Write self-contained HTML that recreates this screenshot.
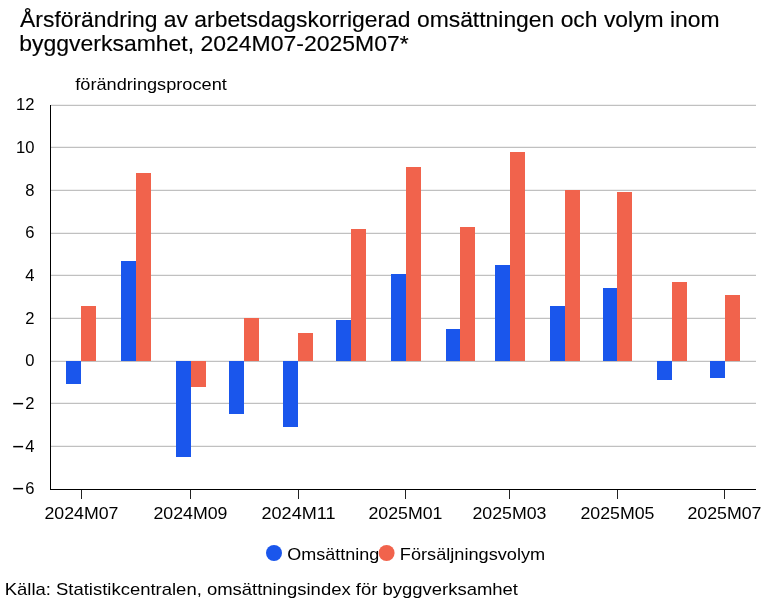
<!DOCTYPE html>
<html><head><meta charset="utf-8"><style>
html,body{margin:0;padding:0;background:#fff;width:766px;height:600px;overflow:hidden}
.w{width:766px;height:600px;will-change:transform}
svg{display:block}
text{font-family:"Liberation Sans",sans-serif;font-size:16.6px;fill:#000}
.t{font-size:21.4px;stroke:#000;stroke-width:0.15px}
</style></head><body><div class="w">
<svg width="766" height="600" viewBox="0 0 766 600" shape-rendering="crispEdges">
<text class="t" x="20.1" y="26.7" textLength="699.5" lengthAdjust="spacingAndGlyphs">Årsförändring av arbetsdagskorrigerad omsättningen och volym inom</text>
<text class="t" x="19.2" y="50.8" textLength="389.5" lengthAdjust="spacingAndGlyphs">byggverksamhet, 2024M07-2025M07*</text>
<text x="75.3" y="89.9" textLength="151.5" lengthAdjust="spacingAndGlyphs">förändringsprocent</text>
<rect x="51" y="104" width="705" height="1" fill="#f0f0f0"/>
<rect x="51" y="105" width="705" height="1" fill="#c0c0c0"/>
<rect x="51" y="146" width="705" height="1" fill="#f0f0f0"/>
<rect x="51" y="147" width="705" height="1" fill="#c0c0c0"/>
<rect x="51" y="189" width="705" height="1" fill="#f0f0f0"/>
<rect x="51" y="190" width="705" height="1" fill="#c0c0c0"/>
<rect x="51" y="232" width="705" height="1" fill="#f0f0f0"/>
<rect x="51" y="233" width="705" height="1" fill="#c0c0c0"/>
<rect x="51" y="274" width="705" height="1" fill="#f0f0f0"/>
<rect x="51" y="275" width="705" height="1" fill="#c0c0c0"/>
<rect x="51" y="317" width="705" height="1" fill="#f0f0f0"/>
<rect x="51" y="318" width="705" height="1" fill="#c0c0c0"/>
<rect x="51" y="360" width="705" height="1" fill="#f0f0f0"/>
<rect x="51" y="361" width="705" height="1" fill="#c0c0c0"/>
<rect x="51" y="402" width="705" height="1" fill="#f0f0f0"/>
<rect x="51" y="403" width="705" height="1" fill="#c0c0c0"/>
<rect x="51" y="445" width="705" height="1" fill="#f0f0f0"/>
<rect x="51" y="446" width="705" height="1" fill="#c0c0c0"/>
<rect x="66" y="361" width="15" height="23" fill="#1a56ec"/>
<rect x="81" y="306" width="15" height="55" fill="#f1634c"/>
<rect x="121" y="261" width="15" height="100" fill="#1a56ec"/>
<rect x="136" y="173" width="15" height="188" fill="#f1634c"/>
<rect x="176" y="361" width="15" height="96" fill="#1a56ec"/>
<rect x="191" y="361" width="15" height="26" fill="#f1634c"/>
<rect x="229" y="361" width="15" height="53" fill="#1a56ec"/>
<rect x="244" y="318" width="15" height="43" fill="#f1634c"/>
<rect x="283" y="361" width="15" height="66" fill="#1a56ec"/>
<rect x="298" y="333" width="15" height="28" fill="#f1634c"/>
<rect x="336" y="320" width="15" height="41" fill="#1a56ec"/>
<rect x="351" y="229" width="15" height="132" fill="#f1634c"/>
<rect x="391" y="274" width="15" height="87" fill="#1a56ec"/>
<rect x="406" y="167" width="15" height="194" fill="#f1634c"/>
<rect x="446" y="329" width="14" height="32" fill="#1a56ec"/>
<rect x="460" y="227" width="15" height="134" fill="#f1634c"/>
<rect x="495" y="265" width="15" height="96" fill="#1a56ec"/>
<rect x="510" y="152" width="15" height="209" fill="#f1634c"/>
<rect x="550" y="306" width="15" height="55" fill="#1a56ec"/>
<rect x="565" y="190" width="15" height="171" fill="#f1634c"/>
<rect x="603" y="288" width="14" height="73" fill="#1a56ec"/>
<rect x="617" y="192" width="15" height="169" fill="#f1634c"/>
<rect x="657" y="361" width="15" height="19" fill="#1a56ec"/>
<rect x="672" y="282" width="15" height="79" fill="#f1634c"/>
<rect x="710" y="361" width="15" height="17" fill="#1a56ec"/>
<rect x="725" y="295" width="15" height="66" fill="#f1634c"/>
<rect x="50" y="105" width="1" height="385" fill="#000"/>
<rect x="50" y="489" width="706" height="1" fill="#000"/>
<rect x="81" y="490" width="1" height="9" fill="#222"/>
<text x="81.5" y="519" text-anchor="middle" textLength="74" lengthAdjust="spacingAndGlyphs">2024M07</text>
<rect x="190" y="490" width="1" height="9" fill="#222"/>
<text x="190.5" y="519" text-anchor="middle" textLength="74" lengthAdjust="spacingAndGlyphs">2024M09</text>
<rect x="298" y="490" width="1" height="9" fill="#222"/>
<text x="298.5" y="519" text-anchor="middle" textLength="74" lengthAdjust="spacingAndGlyphs">2024M11</text>
<rect x="405" y="490" width="1" height="9" fill="#222"/>
<text x="405.5" y="519" text-anchor="middle" textLength="74" lengthAdjust="spacingAndGlyphs">2025M01</text>
<rect x="509" y="490" width="1" height="9" fill="#222"/>
<text x="509.5" y="519" text-anchor="middle" textLength="74" lengthAdjust="spacingAndGlyphs">2025M03</text>
<rect x="617" y="490" width="1" height="9" fill="#222"/>
<text x="617.5" y="519" text-anchor="middle" textLength="74" lengthAdjust="spacingAndGlyphs">2025M05</text>
<rect x="724" y="490" width="1" height="9" fill="#222"/>
<text x="724.5" y="519" text-anchor="middle" textLength="74" lengthAdjust="spacingAndGlyphs">2025M07</text>
<text x="34.5" y="109.70" text-anchor="end">12</text>
<text x="34.5" y="152.70" text-anchor="end">10</text>
<text x="34.5" y="195.70" text-anchor="end">8</text>
<text x="34.5" y="237.70" text-anchor="end">6</text>
<text x="34.5" y="280.70" text-anchor="end">4</text>
<text x="34.5" y="323.70" text-anchor="end">2</text>
<text x="34.5" y="365.70" text-anchor="end">0</text>
<text x="34.5" y="408.70" text-anchor="end">2</text>
<rect x="13.2" y="402.90" width="9.9" height="1.5" fill="#000" shape-rendering="geometricPrecision"/>
<text x="34.5" y="451.70" text-anchor="end">4</text>
<rect x="13.2" y="445.90" width="9.9" height="1.5" fill="#000" shape-rendering="geometricPrecision"/>
<text x="34.5" y="493.70" text-anchor="end">6</text>
<rect x="13.2" y="487.90" width="9.9" height="1.5" fill="#000" shape-rendering="geometricPrecision"/>
<circle cx="274" cy="553" r="8" fill="#1a56ec" shape-rendering="geometricPrecision"/>
<text x="287.2" y="559.5" textLength="92" lengthAdjust="spacingAndGlyphs">Omsättning</text>
<circle cx="386.6" cy="553" r="8" fill="#f1634c" shape-rendering="geometricPrecision"/>
<text x="399.8" y="559.5" textLength="145.4" lengthAdjust="spacingAndGlyphs">Försäljningsvolym</text>
<text x="4.7" y="594.6" textLength="513.3" lengthAdjust="spacingAndGlyphs">Källa: Statistikcentralen, omsättningsindex för byggverksamhet</text>
</svg></div>
</body></html>
